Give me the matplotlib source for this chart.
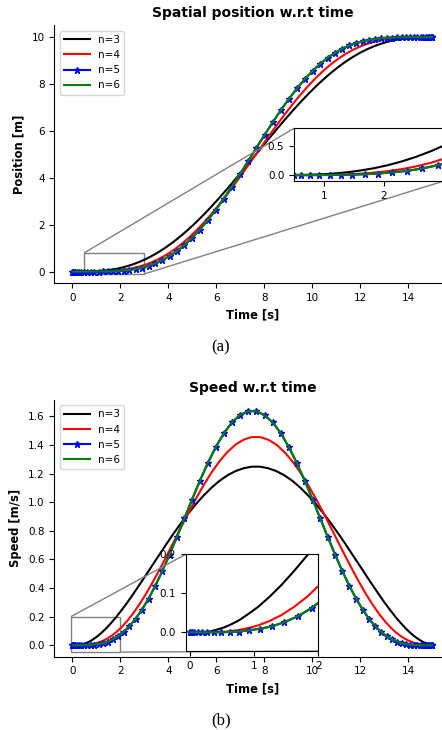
import matplotlib.pyplot as plt
from mpl_toolkits.axes_grid1.inset_locator import mark_inset

# time stamps of the n=5 / n=6 samples (dense near both ends)
time = [
    0.000, 0.008, 0.031, 0.070, 0.124, 0.194, 0.278, 0.378, 0.492, 0.621,
    0.764, 0.921, 1.092, 1.276, 1.473, 1.682, 1.904, 2.137, 2.381, 2.636,
    2.901, 3.175, 3.458, 3.750, 4.050, 4.356, 4.669, 4.988, 5.313, 5.641,
    5.974, 6.310, 6.648, 6.988, 7.329, 7.671, 8.012, 8.352, 8.690, 9.026,
    9.359, 9.687, 10.012, 10.331, 10.644, 10.950, 11.250, 11.542, 11.825, 12.099,
    12.364, 12.619, 12.863, 13.096, 13.318, 13.527, 13.724, 13.908, 14.079, 14.236,
    14.379, 14.508, 14.622, 14.722, 14.806, 14.876, 14.930, 14.969, 14.992, 15.000,
]

# the n=3 / n=4 curves run slightly behind the others
time_lag = [
    0.000, 0.150, 0.158, 0.181, 0.220, 0.274, 0.344, 0.428, 0.528, 0.642,
    0.771, 0.914, 1.071, 1.242, 1.426, 1.623, 1.832, 2.054, 2.287, 2.531,
    2.786, 3.051, 3.325, 3.608, 3.900, 4.200, 4.506, 4.819, 5.138, 5.463,
    5.791, 6.124, 6.460, 6.798, 7.138, 7.479, 7.821, 8.162, 8.502, 8.840,
    9.176, 9.509, 9.837, 10.162, 10.481, 10.794, 11.100, 11.400, 11.692, 11.975,
    12.249, 12.514, 12.769, 13.013, 13.246, 13.468, 13.677, 13.874, 14.058, 14.229,
    14.386, 14.529, 14.658, 14.772, 14.872, 14.956, 15.000,
]

pos_n3 = [
    0.000, 0.000, 0.000, 0.000, 0.000, 0.000, 0.000, 0.001, 0.002, 0.003,
    0.007, 0.012, 0.021, 0.034, 0.054, 0.081, 0.118, 0.167, 0.231, 0.311,
    0.410, 0.530, 0.673, 0.841, 1.035, 1.257, 1.506, 1.783, 2.087, 2.417,
    2.770, 3.145, 3.537, 3.944, 4.362, 4.787, 5.213, 5.638, 6.056, 6.463,
    6.855, 7.230, 7.583, 7.913, 8.217, 8.494, 8.743, 8.965, 9.159, 9.327,
    9.470, 9.590, 9.689, 9.769, 9.833, 9.882, 9.919, 9.946, 9.966, 9.979,
    9.988, 9.993, 9.997, 9.998, 9.999, 10.000, 10.000,
]

pos_n4 = [
    0.000, 0.000, 0.000, 0.000, 0.000, 0.000, 0.000, 0.000, 0.000, 0.000,
    0.001, 0.002, 0.004, 0.008, 0.015, 0.025, 0.042, 0.066, 0.100, 0.148,
    0.212, 0.297, 0.405, 0.540, 0.706, 0.905, 1.139, 1.411, 1.721, 2.068,
    2.450, 2.865, 3.307, 3.774, 4.257, 4.751, 5.249, 5.743, 6.226, 6.693,
    7.135, 7.550, 7.932, 8.279, 8.589, 8.861, 9.095, 9.294, 9.460, 9.595,
    9.703, 9.788, 9.852, 9.900, 9.934, 9.958, 9.975, 9.985, 9.992, 9.996,
    9.998, 9.999, 10.000, 10.000, 10.000, 10.000, 10.000,
]

pos_n5 = [
    0.000, 0.000, 0.000, 0.000, 0.000, 0.000, 0.000, 0.000, 0.000, 0.000,
    0.000, 0.001, 0.002, 0.004, 0.008, 0.015, 0.027, 0.045, 0.072, 0.113,
    0.170, 0.248, 0.353, 0.489, 0.662, 0.875, 1.132, 1.437, 1.788, 2.187,
    2.630, 3.112, 3.626, 4.165, 4.720, 5.280, 5.835, 6.374, 6.888, 7.370,
    7.813, 8.212, 8.563, 8.868, 9.125, 9.338, 9.511, 9.647, 9.752, 9.830,
    9.887, 9.928, 9.955, 9.973, 9.985, 9.992, 9.996, 9.998, 9.999, 10.000,
    10.000, 10.000, 10.000, 10.000, 10.000, 10.000, 10.000, 10.000, 10.000, 10.000,
]

speed_n3 = [
    0.000, 0.000, 0.000, 0.000, 0.000, 0.001, 0.003, 0.007, 0.012, 0.020,
    0.031, 0.047, 0.066, 0.091, 0.121, 0.157, 0.198, 0.246, 0.298, 0.357,
    0.420, 0.487, 0.557, 0.629, 0.703, 0.777, 0.849, 0.919, 0.985, 1.046,
    1.101, 1.149, 1.188, 1.218, 1.238, 1.249, 1.249, 1.238, 1.218, 1.188,
    1.149, 1.101, 1.046, 0.985, 0.919, 0.849, 0.777, 0.703, 0.629, 0.557,
    0.487, 0.420, 0.357, 0.298, 0.246, 0.198, 0.157, 0.121, 0.091, 0.066,
    0.047, 0.031, 0.020, 0.012, 0.007, 0.003, 0.000,
]

speed_n4 = [
    0.000, 0.000, 0.000, 0.000, 0.000, 0.000, 0.000, 0.001, 0.001, 0.003,
    0.006, 0.011, 0.018, 0.029, 0.044, 0.065, 0.092, 0.127, 0.170, 0.222,
    0.284, 0.354, 0.434, 0.521, 0.615, 0.714, 0.817, 0.920, 1.021, 1.117,
    1.206, 1.285, 1.351, 1.403, 1.438, 1.456, 1.456, 1.438, 1.403, 1.351,
    1.285, 1.206, 1.117, 1.021, 0.920, 0.817, 0.714, 0.615, 0.521, 0.434,
    0.354, 0.284, 0.222, 0.170, 0.127, 0.092, 0.065, 0.044, 0.029, 0.018,
    0.011, 0.006, 0.003, 0.001, 0.001, 0.000, 0.000,
]

speed_n5 = [
    0.000, 0.000, 0.000, 0.000, 0.000, 0.000, 0.000, 0.000, 0.000, 0.001,
    0.002, 0.005, 0.009, 0.015, 0.026, 0.041, 0.063, 0.094, 0.134, 0.185,
    0.249, 0.326, 0.416, 0.519, 0.634, 0.757, 0.887, 1.019, 1.150, 1.273,
    1.385, 1.482, 1.558, 1.610, 1.637, 1.637, 1.610, 1.558, 1.482, 1.385,
    1.273, 1.150, 1.019, 0.887, 0.757, 0.634, 0.519, 0.416, 0.326, 0.249,
    0.185, 0.134, 0.094, 0.063, 0.041, 0.026, 0.015, 0.009, 0.005, 0.002,
    0.001, 0.000, 0.000, 0.000, 0.000, 0.000, 0.000, 0.000, 0.000, 0.000,
]

# n=6 sits right on top of n=5 in the figure
pos_n6 = list(pos_n5)
speed_n6 = list(speed_n5)

FS = 7.5
plt.rcParams["font.size"] = FS


def draw_curves(ax, y3, y4, y5, y6):
    ax.plot(time_lag, y3, color="k", lw=1.5, label="n=3")
    ax.plot(time_lag, y4, color="r", lw=1.5, label="n=4")
    ax.plot(time, y5, color="b", lw=1.5, marker="*", ms=5, label="n=5")
    ax.plot(time, y6, color="g", lw=1.5, label="n=6")


def style_main(ax, title, ylabel):
    ax.spines["top"].set_visible(False)
    ax.spines["right"].set_visible(False)
    ax.set_xlim(-0.75, 15.75)
    ax.set_xticks([0, 2, 4, 6, 8, 10, 12, 14])
    ax.set_title(title, fontsize=10, fontweight="bold")
    ax.set_xlabel("Time [s]", fontsize=8.3, fontweight="bold")
    ax.set_ylabel(ylabel, fontsize=8.3, fontweight="bold")
    ax.legend(loc="upper left", fontsize=FS, handlelength=2.5)


fig = plt.figure(figsize=(4.42, 7.30), dpi=100)

# ---- (a) position ----
ax_pos = fig.add_axes([0.1229, 0.6119, 0.8959, 0.3532])
draw_curves(ax_pos, pos_n3, pos_n4, pos_n5, pos_n6)
ax_pos.set_ylim(-0.5, 10.5)
ax_pos.set_yticks([0, 2, 4, 6, 8, 10])
style_main(ax_pos, "Spatial position w.r.t time", "Position [m]")

ins_pos = fig.add_axes([0.6652, 0.7521, 0.3394, 0.0722])
draw_curves(ins_pos, pos_n3, pos_n4, pos_n5, pos_n6)
ins_pos.set_xlim(0.5, 3.0)
ins_pos.set_ylim(-0.1, 0.8)
ins_pos.set_xticks([1, 2, 3])
ins_pos.set_yticks([0.0, 0.5])
ins_pos.set_yticklabels(["0.0", "0.5"])
mark_inset(ax_pos, ins_pos, loc1=2, loc2=4, fc="none", ec="0.5", lw=1.0)

# ---- (b) speed ----
ax_spd = fig.add_axes([0.1229, 0.1004, 0.8959, 0.3516])
draw_curves(ax_spd, speed_n3, speed_n4, speed_n5, speed_n6)
ax_spd.set_ylim(-0.08, 1.715)
ax_spd.set_yticks([0.0, 0.2, 0.4, 0.6, 0.8, 1.0, 1.2, 1.4, 1.6])
ax_spd.set_yticklabels(["0.0", "0.2", "0.4", "0.6", "0.8", "1.0", "1.2", "1.4", "1.6"])
style_main(ax_spd, "Speed w.r.t time", "Speed [m/s]")

ins_spd = fig.add_axes([0.4201, 0.1082, 0.3000, 0.1325])
draw_curves(ins_spd, speed_n3, speed_n4, speed_n5, speed_n6)
ins_spd.set_xlim(-0.06, 2.0)
ins_spd.set_ylim(-0.048, 0.2)
ins_spd.set_xticks([0, 1, 2])
ins_spd.set_yticks([0.0, 0.1, 0.2])
ins_spd.set_yticklabels(["0.0", "0.1", "0.2"])
mark_inset(ax_spd, ins_spd, loc1=2, loc2=4, fc="none", ec="0.5", lw=1.0)

fig.text(0.5, 1 - 347 / 730, "(a)", ha="center", va="center",
         family="Liberation Serif", fontsize=12)
fig.text(0.5, 1 - 720 / 730, "(b)", ha="center", va="center",
         family="Liberation Serif", fontsize=12)

fig.savefig("out.png", dpi=100)
